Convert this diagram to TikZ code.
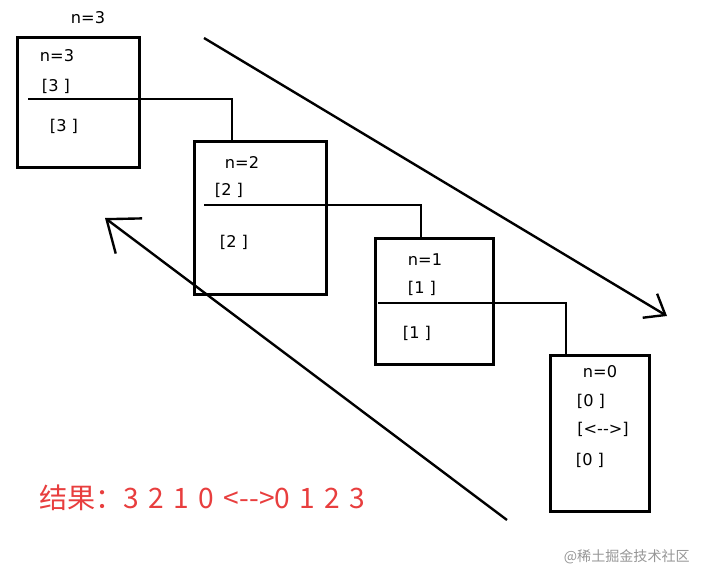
\documentclass[tikz,border=0pt]{standalone}
\usepackage{fontspec}
\setmainfont{DejaVu Sans}
\newfontfamily\cjk{Noto Sans CJK SC}
\newfontfamily\cjkwide[WordSpace=1.5]{Noto Sans CJK SC}
\usepackage{tikz}
\usetikzlibrary{positioning}
\usetikzlibrary{calc}
\usetikzlibrary{arrows.meta}
\definecolor{resred}{RGB}{232,62,62}
\definecolor{wmgray}{RGB}{150,150,150}

\begin{document}
\begin{tikzpicture}[x=0.025cm, y=-0.025cm,
    frame/.style={draw, line width=2.2pt, anchor=north west, inner sep=0pt},
    lbl/.style={font=\fontsize{11.5}{13}\selectfont, inner sep=0pt},
    link/.style={line width=1.7pt},
    flow/.style={line width=1.7pt, -{Straight Barb[length=4.5mm, width=7mm, line width=1.7pt]}},
    back/.style={line width=1.7pt, -{Straight Barb[length=7mm, width=11mm, line width=1.7pt]}}]
    \useasboundingbox (0,0) rectangle (707,584);

    % frames
    \node[frame, minimum width=3.05cm, minimum height=3.25cm] (b3) at (16,36) {};
    \node[frame, minimum width=3.3cm, minimum height=3.825cm] (b2) at (193,140) {};
    \node[frame, minimum width=2.95cm, minimum height=3.15cm] (b1) at (374,237) {};
    \node[frame, minimum width=2.475cm, minimum height=3.9cm] (b0) at (549,354) {};

    % texts
    \node[lbl] (top3) at (88,18) {n=3};
    \node[lbl] (n3) at (57,56) {n=3};
    \node[lbl] (p3) at (56,86) {[3 ]};
    \node[lbl] (q3) at (64,126) {[3 ]};
    \node[lbl] (n2) at (242,162) {n=2};
    \node[lbl] (p2) at (229,190) {[2 ]};
    \node[lbl] (q2) at (234,242) {[2 ]};
    \node[lbl] (n1) at (425,260) {n=1};
    \node[lbl] (p1) at (422,288) {[1 ]};
    \node[lbl] (q1) at (417,333) {[1 ]};
    \node[lbl] (n0) at (600,372) {n=0};
    \node[lbl] (p0) at (591,401) {[0 ]};
    \node[lbl] (m0) at (603,429) {[<-{}->]};
    \node[lbl] (q0) at (590,460) {[0 ]};

    % calls
    \coordinate (k3) at (28,99);
    \coordinate (d2) at (232,140);
    \coordinate (k2) at (204,205);
    \coordinate (d1) at (421,237);
    \coordinate (k1) at (378,303);
    \coordinate (d0) at (566,354);
    \draw[link] (k3) -| (d2);
    \draw[link] (k2) -| (d1);
    \draw[link] (k1) -| (d0);

    % directions
    \coordinate (ds) at (204,38);
    \coordinate (de) at (667,316);
    \coordinate (us) at (507,520);
    \coordinate (ue) at (105,218);
    \draw[flow] (ds) -- (de);
    \draw[back] (us) -- (ue);

    \node[anchor=west, inner sep=0pt, text=resred, font=\cjkwide\fontsize{20}{23}\selectfont] (res) at (39,498) {结果：3 2 1 0 <-{}->0 1 2 3};
    \node[anchor=east, inner sep=0pt, text=wmgray, font=\cjk\fontsize{10}{12}\selectfont] (wm) at (690,557) {@稀土掘金技术社区};
\end{tikzpicture}
\end{document}
